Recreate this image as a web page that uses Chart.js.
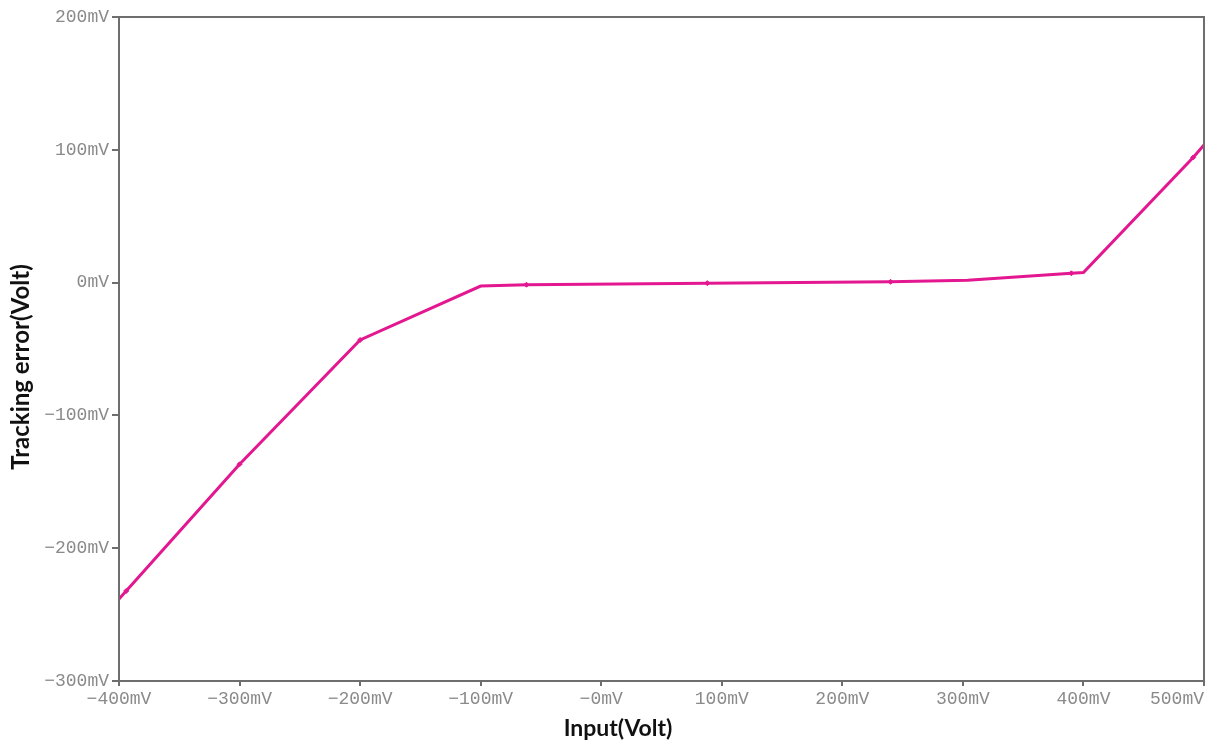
<!DOCTYPE html>
<html>
<head>
<meta charset="utf-8">
<title>Tracking error</title>
<script src="https://cdn.jsdelivr.net/npm/chart.js@4/dist/chart.umd.min.js"></script>
<style>
    html, body { margin: 0; padding: 0; background: #fff; }
    #wrap { width: 1212px; height: 744px; position: relative; }
</style>
</head>
<body>
<div id="wrap"><canvas id="grafico"></canvas></div>
<script>
// Trazo de la curva (mV)
const traceX = [-400, -300, -200, -100, -62, 88, 240, 304, 390, 400, 491, 500];
const traceY = [-238.3, -136.8, -43.2, -2.6, -1.6, -0.4, 0.6, 1.8, 7.0, 7.6, 94.2, 103.6];

// Marcadores pequeños sobre la curva
const markerX = [-394, -300, -200, -62, 88, 240, 390, 491];
const markerY = [-232.2, -136.8, -43.2, -1.6, -0.4, 0.6, 7.0, 94.2];

// Ejes
const xTicks = [-400, -300, -200, -100, 0, 100, 200, 300, 400, 500];
const yTicks = [200, 100, 0, -100, -200, -300];
const xTitle = "Input(Volt)";
const yTitle = "Tracking error(Volt)";

const lineColor = "#e3178f";
const axisColor = "#6e6e6e";
const tickColor = "#8a8a8a";

// etiqueta en mV con signo menos largo
const mvLabel = (v, isX) => {
    if (v === 0) return isX ? "\u22120mV" : "0mV";
    return (v < 0 ? "\u2212" : "") + Math.abs(v) + "mV";
};

// Marco completo alrededor del área y títulos de ejes
const marcoPlugin = {
    id: "marco",
    afterDraw(chart) {
        const { ctx, chartArea: a } = chart;
        ctx.save();
        ctx.strokeStyle = axisColor;
        ctx.lineWidth = 2;
        ctx.strokeRect(a.left, a.top, a.right - a.left, a.bottom - a.top);

        ctx.fillStyle = "#111";
        ctx.textAlign = "center";
        ctx.textBaseline = "middle";
        ctx.font = "bold 23px Lato, 'Open Sans', sans-serif";
        ctx.fillText(xTitle, 618, 729);

        ctx.font = "bold 24px Lato, 'Open Sans', sans-serif";
        ctx.translate(21, 367);
        ctx.rotate(-Math.PI / 2);
        ctx.fillText(yTitle, 0, 0);
        ctx.restore();
    }
};

const toPoints = (xs, ys) => xs.map((x, i) => ({ x: x, y: ys[i] }));

new Chart(document.getElementById("grafico"), {
    type: "scatter",
    data: {
        datasets: [
            {
                data: toPoints(traceX, traceY),
                showLine: true,
                borderColor: lineColor,
                backgroundColor: lineColor,
                borderWidth: 3,
                pointRadius: 0,
                tension: 0
            },
            {
                data: toPoints(markerX, markerY),
                showLine: false,
                borderColor: lineColor,
                backgroundColor: lineColor,
                pointStyle: "rectRot",
                pointRadius: 2.5,
                borderWidth: 1
            }
        ]
    },
    options: {
        responsive: true,
        maintainAspectRatio: false,
        animation: false,
        layout: { padding: { top: 17, right: 8, left: 0, bottom: 0 } },
        plugins: {
            legend: { display: false },
            tooltip: { enabled: false }
        },
        scales: {
            x: {
                type: "linear",
                min: -400,
                max: 500,
                afterBuildTicks: s => { s.ticks = xTicks.map(v => ({ value: v })); },
                afterFit: s => { s.height = 63; s.paddingLeft = 0; s.paddingRight = 0; },
                grid: { drawOnChartArea: false, tickLength: 5, color: axisColor, lineWidth: 2 },
                border: { color: axisColor, width: 2 },
                ticks: {
                    padding: 2,
                    maxRotation: 0,
                    autoSkip: false,
                    color: tickColor,
                    font: { family: "'Liberation Mono', 'DejaVu Sans Mono', monospace", size: 18 },
                    // la última etiqueta queda alineada a la derecha (relleno con espacios)
                    callback: v => v === 500 ? mvLabel(v, true) + "     " : mvLabel(v, true)
                }
            },
            y: {
                type: "linear",
                min: -300,
                max: 200,
                afterBuildTicks: s => { s.ticks = yTicks.map(v => ({ value: v })); },
                afterFit: s => { s.width = 119; s.paddingTop = 0; s.paddingBottom = 0; },
                grid: { drawOnChartArea: false, tickLength: 7, color: axisColor, lineWidth: 2 },
                border: { color: axisColor, width: 2 },
                ticks: {
                    padding: 3,
                    autoSkip: false,
                    color: tickColor,
                    font: { family: "'Liberation Mono', 'DejaVu Sans Mono', monospace", size: 18 },
                    callback: v => mvLabel(v, false)
                }
            }
        }
    },
    plugins: [marcoPlugin]
});
</script>
</body>
</html>
